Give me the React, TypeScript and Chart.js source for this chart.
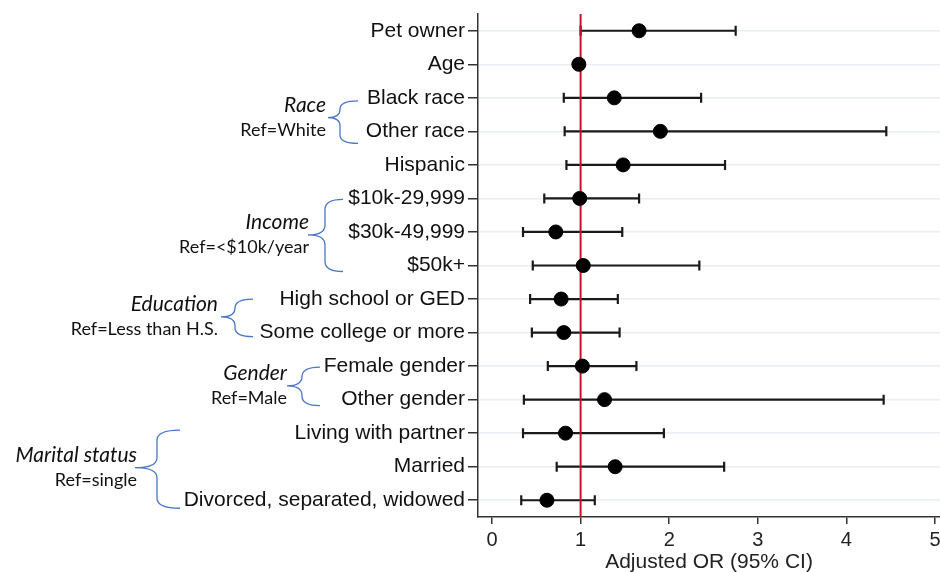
import React, { useEffect, useRef } from "react";
import { Chart, registerables } from "chart.js";

Chart.register(...registerables);

const labels = [
  "Pet owner",
  "Age",
  "Black race",
  "Other race",
  "Hispanic",
  "$10k-29,999",
  "$30k-49,999",
  "$50k+",
  "High school or GED",
  "Some college or more",
  "Female gender",
  "Other gender",
  "Living with partner",
  "Married",
  "Divorced, separated, widowed",
];
const oddsRatios = [1.66, 0.98, 1.38, 1.9, 1.48, 0.99, 0.72, 1.03, 0.78, 0.81, 1.02, 1.27, 0.83, 1.39, 0.62];
const ciLower = [1.0, 0.97, 0.81, 0.82, 0.84, 0.59, 0.35, 0.46, 0.43, 0.45, 0.63, 0.36, 0.35, 0.73, 0.33];
const ciUpper = [2.75, 1.0, 2.36, 4.45, 2.63, 1.66, 1.47, 2.34, 1.42, 1.44, 1.63, 4.42, 1.94, 2.62, 1.16];
const xTicks = [0, 1, 2, 3, 4, 5];
const refValue = 1;
const xTitle = "Adjusted OR (95% CI)";

// Group annotations: rows spanned, label text, and brace geometry
const groupNames = ["Race", "Income", "Education", "Gender", "Marital status"];
const groupRefs = ["Ref=White", "Ref=<$10k/year", "Ref=Less than H.S.", "Ref=Male", "Ref=single"];
const groupFirstRow = [2, 5, 8, 10, 12];
const groupLastRow = [3, 7, 9, 11, 14];

// layout of braces (pixels): text right edge, tip x, vertical x, end x, top/bottom/tip offsets
const braceLayout = [
  { text: 326, tip: 328, vert: 340, end: 358, dTop: 3, dBot: 12, dTip: 3 },
  { text: 309, tip: 308, vert: 325, end: 343, dTop: 1, dBot: 6, dTip: 3 },
  { text: 218, tip: 221, vert: 235, end: 253, dTop: 0, dBot: 4, dTip: 1 },
  { text: 287, tip: 287, vert: 302, end: 320, dTop: 1, dBot: 6, dTip: 3 },
  { text: 137, tip: 135, vert: 157, end: 180, dTop: -3, dBot: 8, dTip: 1 },
];

const labelFont = "'Liberation Sans', Arial, sans-serif";

const forestPlugin = {
  id: "forest",
  beforeDatasetsDraw(chart: any) {
    const { ctx, chartArea, scales } = chart;
    const x = scales.x;
    const y = scales.y;
    ctx.save();
    ctx.strokeStyle = "#1a1a1a";
    ctx.lineWidth = 2.2;
    labels.forEach((_, i) => {
      const py = y.getPixelForValue(i);
      const x0 = x.getPixelForValue(ciLower[i]);
      const x1 = x.getPixelForValue(ciUpper[i]);
      ctx.beginPath();
      ctx.moveTo(x0, py);
      ctx.lineTo(x1, py);
      ctx.moveTo(x0, py - 5);
      ctx.lineTo(x0, py + 5);
      ctx.moveTo(x1, py - 5);
      ctx.lineTo(x1, py + 5);
      ctx.stroke();
    });
    const rx = x.getPixelForValue(refValue);
    ctx.strokeStyle = "#c8102e";
    ctx.lineWidth = 2;
    ctx.beginPath();
    ctx.moveTo(rx, chartArea.top);
    ctx.lineTo(rx, chartArea.bottom);
    ctx.stroke();
    ctx.restore();
  },
  afterDraw(chart: any) {
    const { ctx, scales } = chart;
    const y = scales.y;
    ctx.save();
    groupNames.forEach((name, g) => {
      const L = braceLayout[g];
      const top = y.getPixelForValue(groupFirstRow[g]) + L.dTop;
      const bot = y.getPixelForValue(groupLastRow[g]) + L.dBot;
      const mid = (y.getPixelForValue(groupFirstRow[g]) + y.getPixelForValue(groupLastRow[g])) / 2 + L.dTip;
      const r = Math.min(10, (mid - top) / 2, (bot - mid) / 2);
      ctx.strokeStyle = "#4a76c7";
      ctx.lineWidth = 1.3;
      ctx.beginPath();
      ctx.moveTo(L.end, top);
      ctx.quadraticCurveTo(L.vert, top, L.vert, top + r);
      ctx.lineTo(L.vert, mid - r);
      ctx.quadraticCurveTo(L.vert, mid, L.tip, mid);
      ctx.quadraticCurveTo(L.vert, mid, L.vert, mid + r);
      ctx.lineTo(L.vert, bot - r);
      ctx.quadraticCurveTo(L.vert, bot, L.end, bot);
      ctx.stroke();
      ctx.fillStyle = "#111";
      ctx.textAlign = "right";
      ctx.textBaseline = "middle";
      ctx.font = "italic 21px Lato, 'Open Sans', sans-serif";
      ctx.fillText(name, L.text, mid - 12.5);
      ctx.font = "18px Lato, 'Open Sans', sans-serif";
      ctx.fillText(groupRefs[g], L.text, mid + 12.5);
    });
    ctx.restore();
  },
};

export default function App() {
  const ref = useRef<HTMLCanvasElement>(null);
  useEffect(() => {
    if (!ref.current) return;
    const chart = new Chart(ref.current, {
      type: "scatter",
      data: {
        datasets: [
          {
            data: oddsRatios.map((v, i) => ({ x: v, y: i })),
            backgroundColor: "#000",
            borderColor: "#000",
            pointRadius: 7,
            pointHoverRadius: 7,
          },
        ],
      },
      options: {
        responsive: false,
        animation: false,
        layout: { autoPadding: false, padding: { top: 14, left: 0, right: 0, bottom: 0 } },
        plugins: { legend: { display: false }, tooltip: { enabled: false } },
        scales: {
          x: {
            type: "linear",
            min: -0.158,
            max: 5.056,
            afterBuildTicks: (s: any) => {
              s.ticks = xTicks.map((v) => ({ value: v }));
            },
            afterFit: (s: any) => {
              s.height = 55;
              s.paddingLeft = 0;
              s.paddingRight = 0;
            },
            grid: { drawOnChartArea: false, tickLength: 7, tickColor: "#333", lineWidth: 1.5 },
            border: { color: "#333", width: 1.5 },
            ticks: {
              color: "#222",
              padding: 4,
              maxRotation: 0,
              font: { family: labelFont, size: 20 },
              callback: (v: any) => String(v),
            },
            title: {
              display: true,
              text: xTitle,
              color: "#222",
              padding: { top: 10, bottom: -3 },
              font: { family: labelFont, size: 21 },
            },
          },
          y: {
            type: "category",
            labels: labels,
            offset: true,
            afterFit: (s: any) => {
              s.width = 478;
              s.paddingTop = 0;
              s.paddingBottom = 0;
            },
            grid: {
              offset: false,
              color: "#e8eef3",
              lineWidth: 1.5,
              tickLength: 10,
              tickColor: "#333",
            },
            border: { color: "#333", width: 1.5 },
            ticks: {
              color: "#111",
              padding: 3,
              autoSkip: false,
              font: { family: labelFont, size: 21 },
            },
          },
        },
      },
      plugins: [forestPlugin],
    } as any);
    return () => chart.destroy();
  }, []);
  return (
    <canvas
      ref={ref}
      width={940}
      height={572}
      style={{ position: "absolute", left: 0, top: 0, width: 940, height: 572 }}
    />
  );
}
